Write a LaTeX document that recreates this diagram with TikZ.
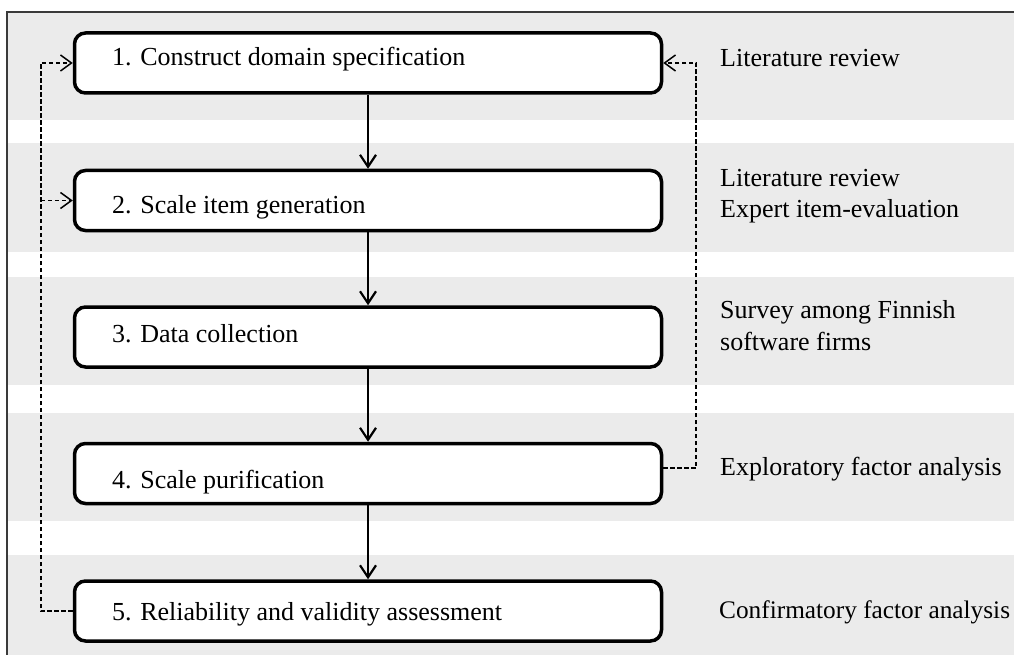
\documentclass[tikz,border=0pt]{standalone}
\usepackage{fontspec}
\setmainfont{Liberation Serif}
\usetikzlibrary{arrows.meta}
\definecolor{band}{HTML}{EBEBEB}
\definecolor{frame}{HTML}{3A3A3A}
\begin{document}
\begin{tikzpicture}[x=1pt,y=-1pt,
  stepbox/.style={draw=black,line width=3.5pt,rounded corners=11pt,fill=white,
    minimum width=587pt,minimum height=60pt,inner sep=0pt},
  steptext/.style={anchor=base west,inner sep=0pt,font=\fontsize{26}{30}\selectfont},
  note/.style={anchor=base west,inner sep=0pt,font=\fontsize{26}{30}\selectfont},
  flow/.style={line width=2.2pt,-{Straight Barb[length=12pt,width=16pt,line width=2.2pt]}},
  loop/.style={line width=1.6pt,dash pattern=on 4.5pt off 2.5pt},
  looptip/.style={-{Straight Barb[length=11pt,width=16pt,line width=1.5pt]}}
]
\useasboundingbox (0,0) rectangle (1014,655);
% background bands
\fill[band] (8,12) rectangle (1014,120);
\fill[band] (8,143) rectangle (1014,252);
\fill[band] (8,277) rectangle (1014,385);
\fill[band] (8,413) rectangle (1014,521);
\fill[band] (8,555) rectangle (1014,655);
% frame
\draw[frame,line width=1.2pt] (7,655) -- (7,12) -- (1014,12);

% process steps
\node[stepbox] (b1) at (368,63) {};
\node[stepbox] (b2) at (368,200.5) {};
\node[stepbox] (b3) at (368,337) {};
\node[stepbox] (b4) at (368,473.5) {};
\node[stepbox] (b5) at (368,611) {};

\node[steptext] (t1) at (112,66) {1. Construct domain specification};
\node[steptext] (t2) at (112,213) {2. Scale item generation};
\node[steptext] (t3) at (112,342) {3. Data collection};
\node[steptext] (t4) at (112,488) {4. Scale purification};
\node[steptext] (t5) at (112,620) {5. Reliability and validity assessment};

% main flow
\draw[flow] (b1.south) -- (b2.north);
\draw[flow] (b2.south) -- (b3.north);
\draw[flow] (b3.south) -- (b4.north);
\draw[flow] (b4.south) -- (b5.north);

% feedback loops
\draw[loop,looptip] (b5.west) -| ([xshift=-32pt]b1.west) -- (b1.west);
\draw[loop,looptip] ([xshift=-32pt]b2.west) -- (b2.west);
\draw[loop,looptip] ([yshift=5.5pt]b4.east) -| ([xshift=33pt]b1.east) -- (b1.east);

% methods
\node[note] (m1) at (720,67) {Literature review};
\node[note] (m2a) at (720,187) {Literature review};
\node[note] (m2b) at (720,218) {Expert item-evaluation};
\node[note] (m3a) at (720,318) {Survey among Finnish};
\node[note] (m3b) at (720,350) {software firms};
\node[note] (m4) at (720,475) {Exploratory factor analysis};
\node[note,font=\fontsize{25.3}{30}\selectfont] (m5) at (719,618) {Confirmatory factor analysis};
\end{tikzpicture}
\end{document}
